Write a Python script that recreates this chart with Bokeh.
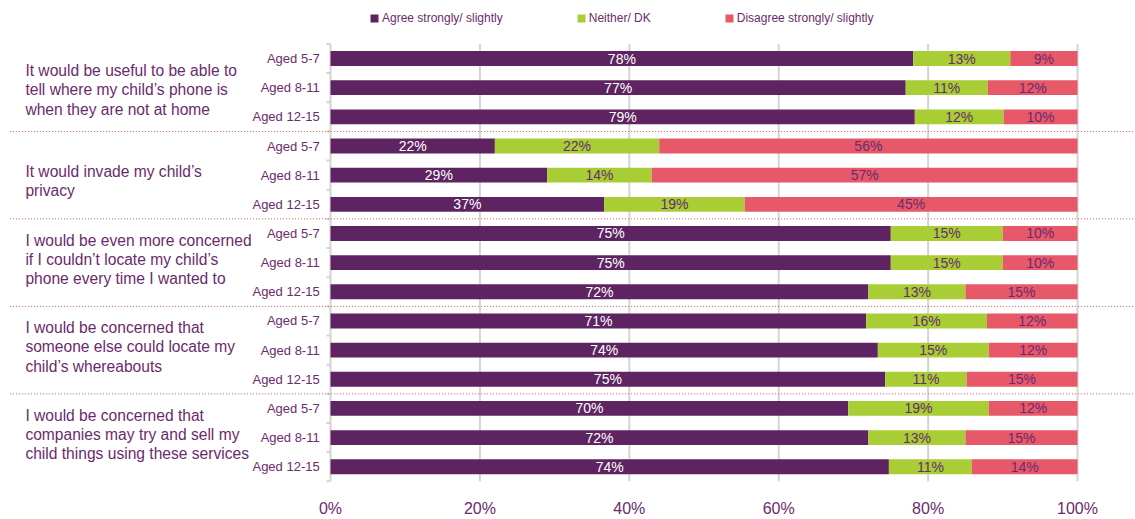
from bokeh.plotting import figure
from bokeh.models import Range1d, FixedTicker, Legend, LegendItem, ColumnDataSource
from bokeh.core.properties import value
from bokeh.embed import file_html
from bokeh.resources import INLINE

questions = [
    "It would be useful to be able to\ntell where my child\u2019s phone is\nwhen they are not at home",
    "It would invade my child\u2019s\nprivacy",
    "I would be even more concerned\nif I couldn\u2019t locate my child\u2019s\nphone every time I wanted to",
    "I would be concerned that\nsomeone else could locate my\nchild\u2019s whereabouts",
    "I would be concerned that\ncompanies may try and sell my\nchild things using these services",
]
ages = ["Aged 5-7", "Aged 8-11", "Aged 12-15"]
series = ["Agree strongly/ slightly", "Neither/ DK", "Disagree strongly/ slightly"]
agree = [78, 77, 79, 22, 29, 37, 75, 75, 72, 71, 74, 75, 70, 72, 74]
neither = [13, 11, 12, 22, 14, 19, 15, 15, 13, 16, 15, 11, 19, 13, 11]
disagree = [9, 12, 10, 56, 57, 45, 10, 10, 15, 12, 12, 15, 12, 15, 14]
x_ticks = [0, 20, 40, 60, 80, 100]
x_tick_labels = ["0%", "20%", "40%", "60%", "80%", "100%"]

PURPLE = "#5E2461"
GREEN = "#A8CD35"
RED = "#E75869"
TEXT = "#6A2B6D"
GRID = "#D4D4D4"
FONT = "Liberation Sans"

n = len(agree)
rows = list(range(n))
tot = [a + b + c for a, b, c in zip(agree, neither, disagree)]
a_end = [100 * a / t for a, t in zip(agree, tot)]
n_end = [100 * (a + b) / t for a, b, t in zip(agree, neither, tot)]

p = figure(width=1135, height=519, output_backend="svg", toolbar_location=None,
           x_range=Range1d(-44.18, 107.76), y_range=Range1d(14.54, -1.99),
           y_axis_location=None, min_border_left=0, min_border_right=0,
           min_border_top=0, min_border_bottom=29)
p.outline_line_color = None
p.xgrid.visible = False
p.ygrid.visible = False
p.background_fill_color = "white"

# grid lines and axis line
p.segment(x0=x_ticks[1:], x1=x_ticks[1:], y0=-0.5, y1=n - 0.5, line_color=GRID, line_width=2)
p.segment(x0=[0], x1=[0], y0=-0.5, y1=n - 0.5, line_color=GRID, line_width=2)
bnd = [i - 0.5 for i in range(n + 1)]
p.segment(x0=[-0.55] * len(bnd), x1=[0] * len(bnd), y0=bnd, y1=bnd, line_color=GRID, line_width=2)

# separators between questions
seps = [3 * g - 0.5 for g in range(1, len(questions))]
p.segment(x0=[-42.9] * len(seps), x1=[107.7] * len(seps), y0=seps, y1=seps,
          line_color=RED, line_width=1, line_dash="1 2")

src = ColumnDataSource(dict(y=rows, a0=[0] * n, a1=a_end, n1=n_end, d1=[100] * n,
                            al=[f"{v}%" for v in agree], nl=[f"{v}%" for v in neither],
                            dl=[f"{v}%" for v in disagree],
                            am=[e / 2 for e in a_end],
                            nm=[(a + b) / 2 for a, b in zip(a_end, n_end)],
                            dm=[(b + 100) / 2 for b in n_end]))
h = 0.51
r1 = p.hbar(y="y", left="a0", right="a1", height=h, source=src, fill_color=PURPLE, line_color=None)
r2 = p.hbar(y="y", left="a1", right="n1", height=h, source=src, fill_color=GREEN, line_color=None)
r3 = p.hbar(y="y", left="n1", right="d1", height=h, source=src, fill_color=RED, line_color=None)

fs = "14px"
p.text(x="am", y="y", text="al", source=src, text_color="white", text_font=value(FONT),
       text_font_size=fs, text_align="center", text_baseline="middle")
p.text(x="nm", y="y", text="nl", source=src, text_color=TEXT, text_font=value(FONT),
       text_font_size=fs, text_align="center", text_baseline="middle")
p.text(x="dm", y="y", text="dl", source=src, text_color=TEXT, text_font=value(FONT),
       text_font_size=fs, text_align="center", text_baseline="middle")

# age labels
p.text(x=[-1.45] * n, y=rows, text=[ages[i % 3] for i in rows], text_color=TEXT,
       text_font=value(FONT), text_font_size="13px", text_align="right", text_baseline="middle")

# question labels
qy = [1.07, 4.19, 6.89, 9.89, 12.89]
p.text(x=[-40.85] * len(questions), y=qy, text=questions, text_color=TEXT,
       text_font=value(FONT), text_font_size="15.6px", text_align="left",
       text_baseline="middle", text_line_height=1.14)

p.xaxis.ticker = FixedTicker(ticks=x_ticks)
p.xaxis.major_label_overrides = {t: l for t, l in zip(x_ticks, x_tick_labels)}
p.xaxis.axis_line_color = None
p.xaxis.major_tick_line_color = None
p.xaxis.minor_tick_line_color = None
p.xaxis.major_label_text_color = TEXT
p.xaxis.major_label_text_font = FONT
p.xaxis.major_label_text_font_size = "16px"
p.xaxis.major_label_standoff = 11

legend = Legend(items=[LegendItem(label=series[0], renderers=[r1]),
                       LegendItem(label=series[1], renderers=[r2]),
                       LegendItem(label=series[2], renderers=[r3])],
                orientation="horizontal", location=(369, 454),
                glyph_width=10, glyph_height=10, label_standoff=3, spacing=73,
                padding=0, margin=0, border_line_color=None, background_fill_alpha=0,
                label_text_color=TEXT, label_text_font=FONT, label_text_font_size="12px",
                label_height=20)
p.add_layout(legend, "center")

open("out.html", "w").write(file_html(p, INLINE))
